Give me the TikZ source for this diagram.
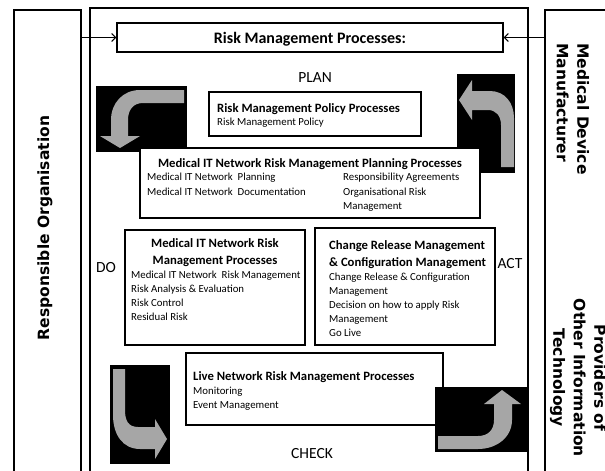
\documentclass[tikz,border=0pt]{standalone}
\usepackage{fontspec}
\setmainfont{Carlito}
\newfontfamily\sidefont{DejaVu Sans}
\usetikzlibrary{arrows.meta}
\definecolor{arrowgray}{RGB}{166,166,166}
\begin{document}
\begin{tikzpicture}[x=1pt,y=-1pt,
  box/.style={draw=black, line width=1.3pt, fill=white, inner sep=0pt},
  bigbox/.style={draw=black, line width=1.8pt, fill=white, inner sep=0pt},
  body/.style={font=\fontsize{10.8}{13}\selectfont, inner sep=0pt},
  ttl/.style={font=\bfseries\fontsize{12.7}{15}\selectfont, inner sep=0pt},
  phase/.style={font=\fontsize{15.5}{18}\selectfont, inner sep=0pt},
  side/.style={font=\sidefont\bfseries\fontsize{15.5}{20.5}\selectfont, inner sep=0pt},
  hdrarrow/.style={line width=1pt, -{Straight Barb[length=4pt,width=8pt]}},
  icon/.style={fill=black},
  garrow/.style={fill=arrowgray}
]
\useasboundingbox (0,0) rectangle (605,471);
\clip (0,0) rectangle (605,471);

% outer columns
\node[bigbox, minimum width=67pt, minimum height=480pt] (ro) at (47.5,250) {};
\node[bigbox, minimum width=438pt, minimum height=482pt] (main) at (309,249) {};
\node[bigbox, minimum width=70pt, minimum height=480pt] (rb) at (580,250) {};

\node[side, rotate=90] (rolabel) at (45,228) {Responsible Organisation};
\node[side, rotate=-90, align=left] (mdm) at (573,109) {Medical Device\\Manufacturer};
\node[side, rotate=-90, align=center] (prov) at (578,378) {Providers of\\Other Information\\Technology};

% header
\node[box, minimum width=386pt, minimum height=29pt] (hdr) at (310,37.5) {};
\node[font=\bfseries\fontsize{16}{18}\selectfont, inner sep=0pt, anchor=base] (hdrtext) at (310,43) {Risk Management Processes:};
\draw[hdrarrow] (hdr.west -| ro.east) -- (hdr.west);
\draw[hdrarrow] (hdr.east -| rb.west) -- (hdr.east);

% phase labels
\node[phase, anchor=base] (plan) at (315,82) {PLAN};
\node[phase, anchor=base] (do) at (106,272) {DO};
\node[phase, anchor=base] (act) at (510,268) {ACT};
\node[phase, anchor=base] (check) at (312,458) {CHECK};

% top-left icon
\fill[icon] (96,86) rectangle (187,152);
\fill[garrow] (184,90) -- (140,90) .. controls (123,90) and (111,103) .. (111,120) -- (111,136) -- (100,136) -- (120,148) -- (140,136) -- (128,136) -- (128,120) .. controls (128,110) and (133,103) .. (143,103) -- (184,103) -- cycle;

% top-right icon
\fill[icon] (457,74) rectangle (515,173);
\fill[garrow] (459,100) -- (472,80) -- (472,91) -- (490,91) .. controls (505,91) and (514,103) .. (514,118) -- (514,167) -- (501,167) -- (501,125) .. controls (501,116) and (496,110) .. (488,110) -- (472,110) -- (472,120) -- cycle;

% policy box
\node[box, minimum width=212pt, minimum height=44pt] (pol) at (315,114) {};
\node[ttl, anchor=base west] (polt) at (217,112) {Risk Management Policy Processes};
\node[body, anchor=base west] (pol1) at (217,125) {Risk Management Policy};

% planning box
\node[box, minimum width=340pt, minimum height=70pt] (planb) at (310,183) {};
\node[ttl, anchor=base] (plant) at (310,167) {Medical IT Network Risk Management Planning Processes};
\node[body, anchor=base west] (plan1) at (147,180) {Medical IT Network\ \ Planning};
\node[body, anchor=base west] (plan2) at (147,195) {Medical IT Network\ \ Documentation};
\node[body, anchor=base west] (plan3) at (343,180) {Responsibility Agreements};
\node[body, anchor=base west] (plan4) at (343,195) {Organisational Risk};
\node[body, anchor=base west] (plan5) at (343,209) {Management};

% DO box
\node[box, minimum width=180pt, minimum height=115pt] (dob) at (215,287.5) {};
\node[ttl, anchor=base] (dot1) at (215,247) {Medical IT Network Risk};
\node[ttl, anchor=base] (dot2) at (215,264) {Management Processes};
\node[body, anchor=base west] (do1) at (131,278) {Medical IT Network\ \ Risk Management};
\node[body, anchor=base west] (do2) at (131,292) {Risk Analysis \& Evaluation};
\node[body, anchor=base west] (do3) at (131,306) {Risk Control};
\node[body, anchor=base west] (do4) at (131,320) {Residual Risk};

% ACT / change box
\node[box, minimum width=180pt, minimum height=117pt] (chg) at (405,286.5) {};
\node[ttl, anchor=base west] (chgt1) at (329,249) {Change Release Management};
\node[ttl, anchor=base west] (chgt2) at (329,266) {\& Configuration Management};
\node[body, anchor=base west] (chg1) at (329,280) {Change Release \& Configuration};
\node[body, anchor=base west] (chg2) at (329,294) {Management};
\node[body, anchor=base west] (chg3) at (329,308) {Decision on how to apply Risk};
\node[body, anchor=base west] (chg4) at (329,322) {Management};
\node[body, anchor=base west] (chg5) at (329,336) {Go Live};

% live box
\node[box, minimum width=257pt, minimum height=72pt] (live) at (314.5,389) {};
\node[ttl, anchor=base west] (livet) at (193,380) {Live Network Risk Management Processes};
\node[body, anchor=base west] (live1) at (193,394) {Monitoring};
\node[body, anchor=base west] (live2) at (193,408) {Event Management};

% bottom-left icon
\fill[icon] (110,365) rectangle (170,464);
\fill[garrow] (113,369) -- (125,369) -- (125,410) .. controls (125,420) and (128,427) .. (138,427) -- (155,427) -- (155,419) -- (167,439) -- (155,459) -- (155,449) -- (140,449) .. controls (123,449) and (113,435) .. (113,415) -- cycle;

% bottom-right icon
\fill[icon] (435,387) rectangle (527,452);
\fill[garrow] (438,436) -- (478,436) .. controls (488,436) and (494,430) .. (494,420) -- (494,404) -- (484,404) -- (502,390) -- (521,404) -- (512,404) -- (512,420) .. controls (512,437) and (497,449) .. (478,449) -- (438,449) -- cycle;
\end{tikzpicture}
\end{document}
